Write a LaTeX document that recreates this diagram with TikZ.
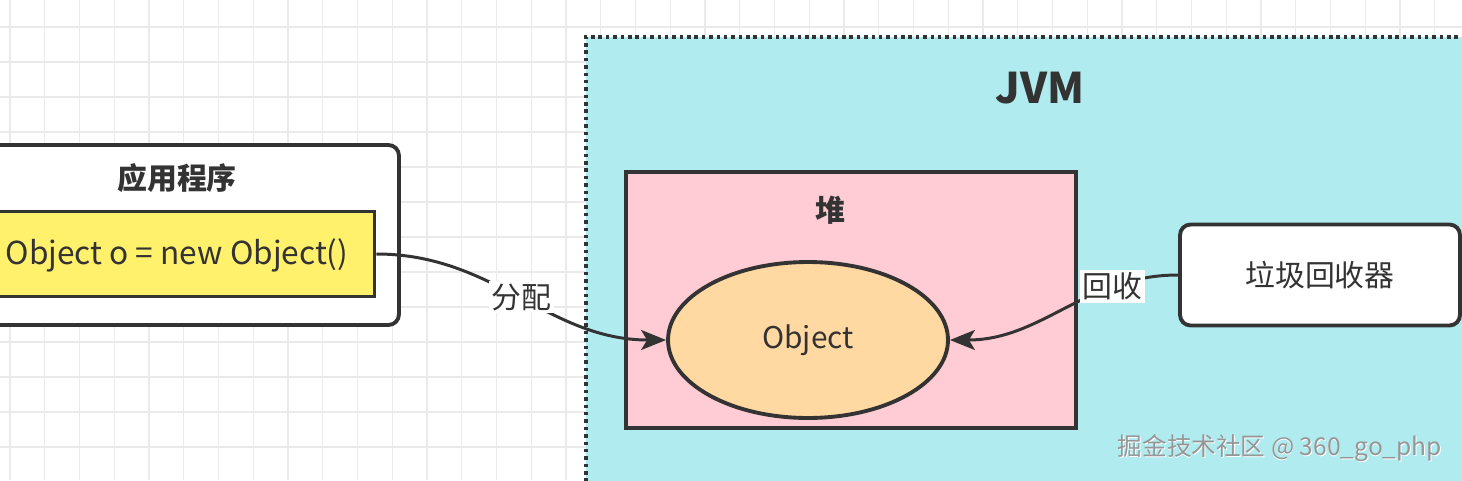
\documentclass[tikz,border=0pt]{standalone}
\usepackage{fontspec}
\setmainfont{Noto Sans CJK SC}
\usetikzlibrary{arrows.meta,positioning,shapes.geometric}
\definecolor{gridgrey}{RGB}{234,234,234}
\definecolor{jvmcyan}{RGB}{176,235,240}
\definecolor{heappink}{RGB}{255,204,213}
\definecolor{objpeach}{RGB}{255,217,161}
\definecolor{codeyellow}{RGB}{255,241,107}
\definecolor{inkgrey}{RGB}{51,51,51}
\definecolor{markgrey}{RGB}{150,150,150}

\begin{document}
\begin{tikzpicture}[x=0.02cm, y=-0.02cm,
  every node/.style={font=\fontsize{17}{20}\selectfont, text=inkgrey},
  gridline/.style={gridgrey, line width=0.8pt},
  jvmarea/.style={draw=inkgrey, fill=jvmcyan, line width=2.2pt, dash pattern=on 2pt off 2.2pt,
                  anchor=north west, minimum width=19cm, minimum height=10cm},
  box/.style={draw=inkgrey, fill=white, line width=2.2pt, rounded corners=6pt},
  code/.style={draw=inkgrey, fill=codeyellow, line width=2.2pt},
  heap/.style={draw=inkgrey, fill=heappink, line width=2.2pt},
  obj/.style={ellipse, draw=inkgrey, fill=objpeach, line width=2.2pt},
  title/.style={font=\fontsize{17}{20}\selectfont\bfseries},
  lbl/.style={fill=white, inner sep=1.5pt},
  ar/.style={-{Stealth[length=5mm,width=4mm,inset=1.2mm]}, inkgrey, line width=1.7pt}]

\useasboundingbox (0,0) rectangle (1462,480);
\clip (0,0) rectangle (1462,480);
\fill[white] (0,0) rectangle (1462,480);

% grid
\foreach \i in {0,...,42} \draw[gridline] ({10+34.75*\i},0) -- ({10+34.75*\i},480);
\foreach \j in {0,...,14} \draw[gridline] (0,{-8+35*\j}) -- (1462,{-8+35*\j});

\node[jvmarea] (jvm) at (584,35) {};
\node[font=\fontsize{24}{28}\selectfont\bfseries] (jvmtitle) at (1040,88) {JVM};

\node[box, minimum width=8.4cm, minimum height=3.6cm] (app) at (189,235) {};
\node[title] (apptitle) at (177,178) {应用程序};
\node[code, minimum width=7.7cm, minimum height=1.7cm] (code) at (182,254) {};
\node[font=\fontsize{18}{21}\selectfont] (codetext) at (177,255) {Object o = new Object()};

\node[heap, minimum width=9cm, minimum height=5.12cm] (heap) at (851,300) {};
\node[title] (heaptitle) at (830,210) {堆};
\node[obj, minimum width=5.6cm, minimum height=3.12cm] (obj) at (808,340) {Object};

\node[box, minimum width=5.6cm, minimum height=2.02cm] (gc) at (1320,275) {垃圾回收器};

\draw[ar] (code.east) to[out=0,in=180] node[lbl,pos=0.5] (alloc) {分配} (obj.west);
\draw[ar] (gc.west) to[out=180,in=0] node[lbl,pos=0.27] (collect) {回收} (obj.east);

\node[white, font=\fontsize{14}{16}\selectfont] at (1280.8,448.8) {掘金技术社区 @ 360\_go\_php};
\node[markgrey, font=\fontsize{14}{16}\selectfont] (mark) at (1280,448) {掘金技术社区 @ 360\_go\_php};
\end{tikzpicture}
\end{document}
